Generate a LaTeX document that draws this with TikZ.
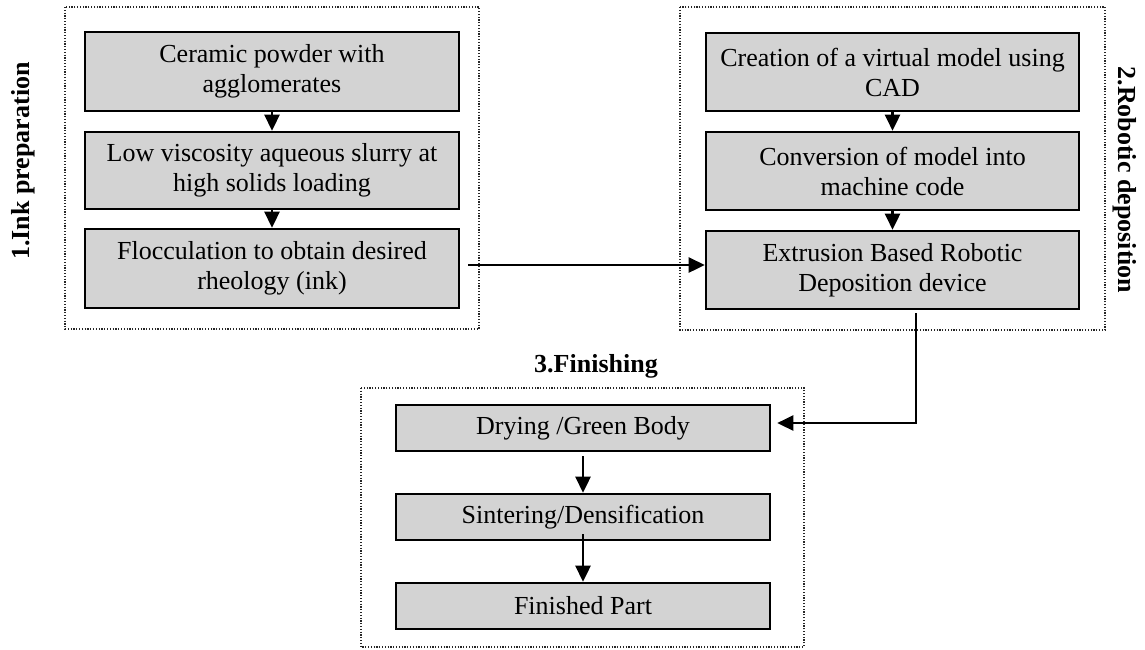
\documentclass[tikz,border=0pt]{standalone}
\usepackage{fontspec}
\setmainfont{Liberation Serif}
\usetikzlibrary{arrows.meta,calc}
\definecolor{boxgray}{RGB}{211,211,211}
\begin{document}
\begin{tikzpicture}[x=1pt,y=-1pt,
  stepbox/.style={draw=black,line width=2.6pt,fill=boxgray,inner sep=0pt,
    font=\fontsize{26}{30}\selectfont,align=center},
  group/.style={draw=black!85,line width=1.3pt,dash pattern=on 1.2pt off 1.6pt},
  conn/.style={line width=2.6pt,-{Triangle[length=16pt,width=15pt]}},
  title/.style={font=\fontsize{26}{30}\selectfont\bfseries,inner sep=0pt}]
\useasboundingbox (0,0) rectangle (1145,649);
% group frames
\draw[group] (65,7) rectangle (479,329);
\draw[group] (680,7) rectangle (1105,330);
\draw[group] (361,388) rectangle (804,647);
% titles
\node[title,rotate=90] (t1) at (23,161) {1.Ink preparation};
\node[title,rotate=-90] (t2) at (1125,180) {2.Robotic deposition};
\node[title,anchor=base] (t3) at (596,372) {3.Finishing};
% ink preparation
\node[stepbox,minimum width=374pt,minimum height=79pt] (a1) at (272,71.5) {Ceramic powder with\\agglomerates};
\node[stepbox,minimum width=374pt,minimum height=77pt] (a2) at (272,170.5) {Low viscosity aqueous slurry at\\high solids loading};
\node[stepbox,minimum width=374pt,minimum height=79pt] (a3) at (272,268.5) {Flocculation to obtain desired\\rheology (ink)};
% robotic deposition
\node[stepbox,minimum width=373pt,minimum height=78pt] (b1) at (892.5,72) {Creation of a virtual model using\\CAD};
\node[stepbox,minimum width=373pt,minimum height=78pt] (b2) at (892.5,171) {Conversion of model into\\machine code};
\node[stepbox,minimum width=373pt,minimum height=78pt] (b3) at (892.5,270) {Extrusion Based Robotic\\Deposition device};
% finishing
\node[stepbox,minimum width=374pt,minimum height=46pt] (c1) at (583,428) {Drying /Green Body};
\node[stepbox,minimum width=374pt,minimum height=46pt] (c2) at (583,517) {Sintering/Densification};
\node[stepbox,minimum width=374pt,minimum height=46pt] (c3) at (583,606) {Finished Part};
% connectors
\draw[conn] (a1.south) -- (a2.north);
\draw[conn] (a2.south) -- (a3.north);
\draw[conn] (b1.south) -- (b2.north);
\draw[conn] (b2.south) -- (b3.north);
\coordinate (h0) at ($(a3.east)+(8,-3.5)$);
\draw[conn] (h0) -- (h0 -| b3.west);
\coordinate (v0) at ($(b3.south)+(23.5,3)$);
\coordinate (v1) at (v0 |- 0,423);
\draw[conn] (v0) -- (v1) -- ($(v1 -| c1.east)+(6,0)$);
\draw[conn] ($(c1.south)+(0,4)$) -- (c2.north);
\draw[conn] ($(c2.south)+(0,-7)$) -- (c3.north);
\end{tikzpicture}
\end{document}
